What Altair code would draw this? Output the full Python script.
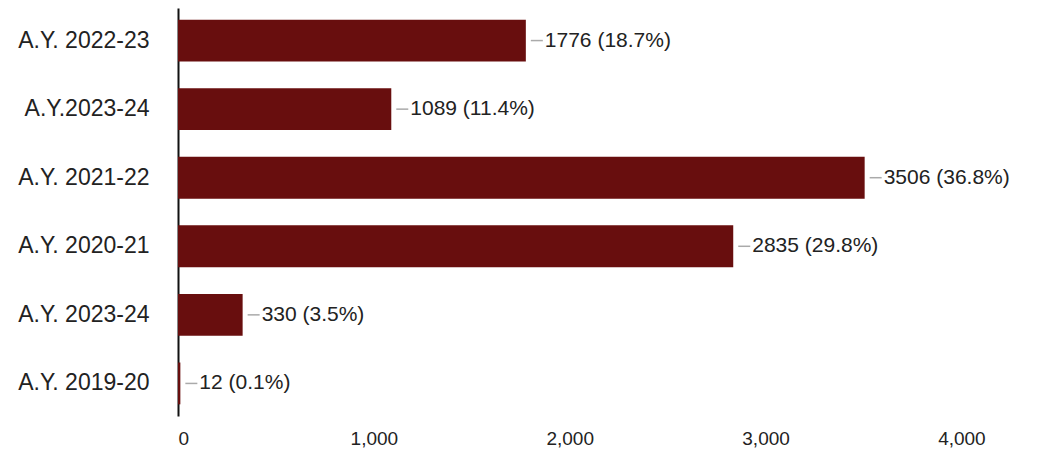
import altair as alt
import pandas as pd

categories = ["A.Y. 2022-23", "A.Y.2023-24", "A.Y. 2021-22", "A.Y. 2020-21", "A.Y. 2023-24", "A.Y. 2019-20"]
counts = [1776, 1089, 3506, 2835, 330, 12]
percents = ["18.7%", "11.4%", "36.8%", "29.8%", "3.5%", "0.1%"]
x_ticks = [0, 1000, 2000, 3000, 4000]

df = pd.DataFrame({"cat": categories, "count": counts, "pct": percents})
df["label"] = df["count"].astype(str) + " (" + df["pct"] + ")"

FONT = "Liberation Sans"
BAR = "#680e0e"

y_enc = alt.Y("cat:N", sort=categories, title=None,
              scale=alt.Scale(paddingInner=0.39, paddingOuter=0.17),
              axis=alt.Axis(ticks=False, domain=True, domainColor="#111", domainWidth=2,
                            labelFont=FONT, labelFontSize=23, labelColor="#222",
                            labelPadding=29, labelLimit=300))
x_scale = alt.Scale(domain=[0, 4340], nice=False)
x_enc = alt.X("count:Q", scale=x_scale, title=None,
              axis=alt.Axis(values=x_ticks, format=",d", grid=False, ticks=False, domain=False,
                            labelFont=FONT, labelFontSize=19, labelColor="#222", labelPadding=13))

bars = alt.Chart(df).mark_bar(color=BAR).encode(x=x_enc, y=y_enc)

leaders = alt.Chart(df).mark_rule(color="#aaaaaa", strokeWidth=1.5, xOffset=5, x2Offset=17).encode(
    x=alt.X("count:Q", scale=x_scale), x2="count:Q", y=alt.Y("cat:N", sort=categories))

labels = alt.Chart(df).mark_text(align="left", baseline="middle", dx=19, font=FONT,
                                 fontSize=21, color="#222").encode(
    x=alt.X("count:Q", scale=x_scale), y=alt.Y("cat:N", sort=categories), text="label:N")

chart = (bars + leaders + labels).properties(
    width=850, height=408,
    background="white",
    autosize=alt.AutoSizeParams(type="none"),
    padding={"left": 170, "top": 0, "right": 13, "bottom": 36},
).configure_view(stroke=None, strokeWidth=0)

chart.save("out.html", embed_options={"renderer": "svg", "actions": False})
